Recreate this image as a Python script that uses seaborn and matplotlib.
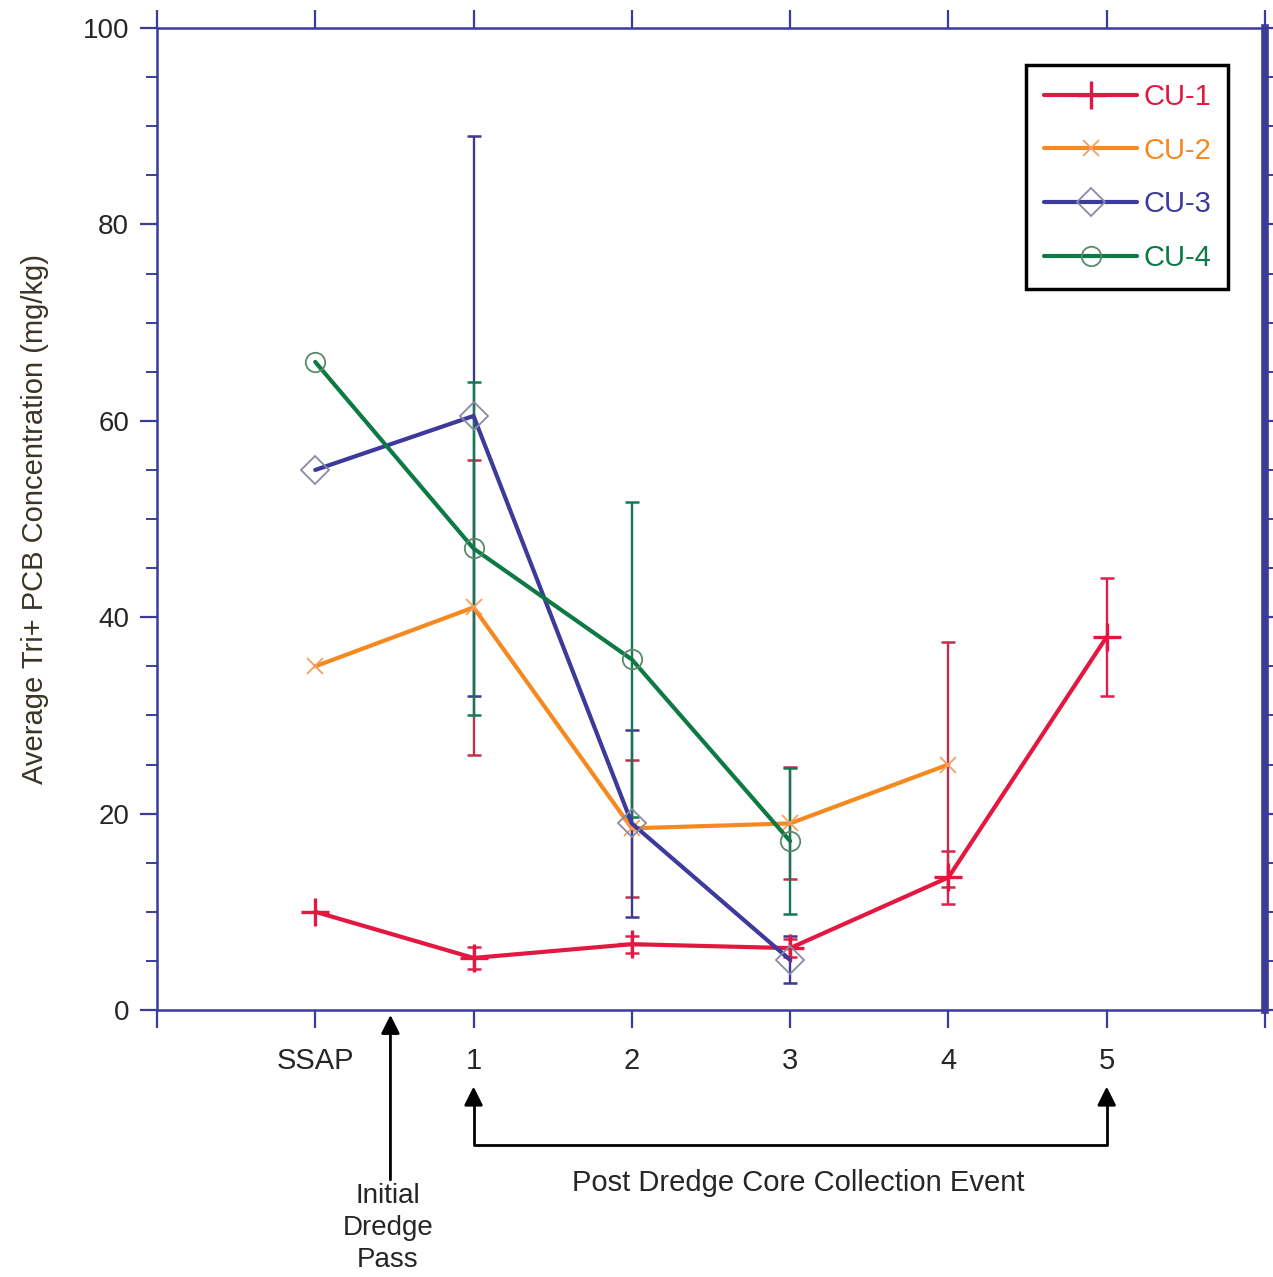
import numpy as np
import pandas as pd
import matplotlib
matplotlib.use('Agg')
import matplotlib.pyplot as plt
import seaborn as sns
from matplotlib.ticker import MultipleLocator

# --- DATA ---
event_labels = ['SSAP', '1', '2', '3', '4', '5']
event_pos = [0, 1, 2, 3, 4, 5]

cu1_y = [10.0, 5.3, 6.7, 6.3, 13.5, 38.0]
cu1_err = [np.nan, 1.1, 0.85, 0.9, 2.7, 6.0]
cu2_y = [35.0, 41.0, 18.5, 19.0, 25.0]
cu2_err = [np.nan, 15.0, 7.0, 5.7, 12.5]
cu3_y = [55.0, 60.5, 19.0, 5.1]
cu3_err = [np.nan, 28.5, 9.5, 2.4]
cu4_y = [66.0, 47.0, 35.7, 17.2]
cu4_err = [np.nan, 17.0, 16.0, 7.4]

series = [
    ('CU-1', cu1_y, cu1_err),
    ('CU-2', cu2_y, cu2_err),
    ('CU-3', cu3_y, cu3_err),
    ('CU-4', cu4_y, cu4_err),
]

# --- STYLE ---
line_col = {'CU-1': '#e3173f', 'CU-2': '#f5891f', 'CU-3': '#3d3a9c', 'CU-4': '#0d7a45'}
err_col = {'CU-1': '#e0204a', 'CU-2': '#c2304c', 'CU-3': '#3a3a8e', 'CU-4': '#127a52'}
mk = {'CU-1': dict(marker='+', ms=20, mew=2.4, mec='#e3173f'),
      'CU-2': dict(marker='x', ms=11, mew=1.3, mec='#f5a060'),
      'CU-3': dict(marker='D', ms=14, mew=1.3, mec='#8a8aa6', mfc='none'),
      'CU-4': dict(marker='o', ms=14, mew=1.3, mec='#5a8a6a', mfc='none')}
spine_col = '#3b3b9c'

sns.set_style('white')
plt.rcParams['font.family'] = ['Liberation Sans', 'DejaVu Sans']

fig = plt.figure(figsize=(12.73, 12.77), dpi=100)
ax = fig.add_axes([0.1233, 0.2091, 0.8704, 0.7689])

rows = []
for name, ys, errs in series:
    for x, y, e in zip(event_pos, ys, errs):
        rows.append({'event': x, 'conc': y, 'err': e, 'unit': name})
df = pd.DataFrame(rows)

# error bars first, then lines
for name, ys, errs in series:
    d = df[df.unit == name].dropna(subset=['err'])
    ax.errorbar(d['event'], d['conc'], yerr=d['err'], fmt='none',
                ecolor=err_col[name], elinewidth=1.7, capsize=5, capthick=1.8, zorder=2)

for name, ys, errs in series:
    d = df[df.unit == name]
    sns.lineplot(data=d, x='event', y='conc', ax=ax, color=line_col[name], lw=3,
                 label=name, zorder=3, **mk[name])

# --- AXES ---
ax.set_xlim(-1, 6)
ax.set_ylim(0, 100)
ax.set_xticks(range(-1, 7))
ax.set_xticklabels([''] + event_labels + [''])
ax.yaxis.set_major_locator(MultipleLocator(20))
ax.yaxis.set_minor_locator(MultipleLocator(5))
ax.set_xlabel('')
ax.set_ylabel('Average Tri+ PCB Concentration (mg/kg)', fontsize=21, color='#3a3326', labelpad=24)

ax.tick_params(axis='x', which='major', direction='out', length=13, width=1.6, color=spine_col,
               top=True, bottom=True, labelsize=21, pad=14)
ax.tick_params(axis='y', which='major', direction='out', length=12, width=1.6, color=spine_col,
               left=True, right=True, labelsize=20, pad=8)
ax.tick_params(axis='y', which='minor', direction='out', length=8, width=1.4, color=spine_col,
               left=True, right=True)
for side in ['left', 'top', 'bottom']:
    ax.spines[side].set_color(spine_col)
    ax.spines[side].set_linewidth(1.8)
ax.spines['right'].set_color(spine_col)
ax.spines['right'].set_linewidth(5.5)

# --- LEGEND ---
leg = ax.legend(loc='upper right', bbox_to_anchor=(0.967, 0.962), borderaxespad=0,
                fontsize=21, handlelength=3.2, handletextpad=0.2, labelspacing=0.88,
                frameon=True, fancybox=False, framealpha=1, borderpad=0.6)
leg.get_frame().set_edgecolor('black')
leg.get_frame().set_linewidth(2.5)
for txt, (name, _, _) in zip(leg.get_texts(), series):
    txt.set_color(line_col[name])

# --- ANNOTATIONS BELOW AXIS ---
trans = ax.get_xaxis_transform()
arrow = dict(arrowstyle='-|>', color='black', lw=2, mutation_scale=28, shrinkA=0, shrinkB=0)
ax.annotate('', xy=(0.475, -0.005), xytext=(0.475, -0.173), xycoords=trans,
            textcoords=trans, arrowprops=arrow, annotation_clip=False)
ax.text(0.46, -0.176, 'Initial\nDredge\nPass', transform=trans, ha='center', va='top',
        fontsize=20, linespacing=1.3)

ax.plot([1, 1, 5, 5], [-0.085, -0.1375, -0.1375, -0.085], transform=trans, color='black',
        lw=2, clip_on=False)
ax.annotate('', xy=(1, -0.078), xytext=(1, -0.09), xycoords=trans, textcoords=trans,
            arrowprops=arrow, annotation_clip=False)
ax.annotate('', xy=(5, -0.078), xytext=(5, -0.09), xycoords=trans, textcoords=trans,
            arrowprops=arrow, annotation_clip=False)
ax.text(3.05, -0.176, 'Post Dredge Core Collection Event', transform=trans, ha='center',
        va='center', fontsize=21)

fig.savefig('out.png', dpi=100)
